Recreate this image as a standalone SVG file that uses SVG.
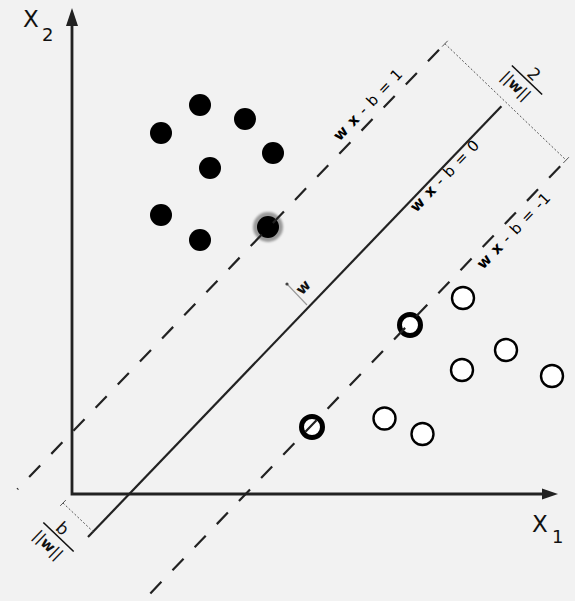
<svg xmlns="http://www.w3.org/2000/svg" width="575" height="601" viewBox="0 0 575 601">
<defs>
<style>
.ax{fill:none;stroke:#222;stroke-width:2.8;stroke-linejoin:miter}
.ln{fill:none;stroke:#222;stroke-width:2.2}
.dash{stroke-dasharray:16 16}
.dot{fill:none;stroke:#555;stroke-width:1;stroke-dasharray:2 2}
.tick{fill:none;stroke:#555;stroke-width:1}
.blk{fill:#000}
.opn{fill:#fff;stroke:#000;stroke-width:2.4}
.sv{fill:#fff;stroke:#000;stroke-width:5}
.t{font-family:"DejaVu Sans",sans-serif;fill:#111}
.lbl{font-family:"DejaVu Sans",sans-serif;font-size:15px;letter-spacing:0.8px;fill:#000}
.b{font-weight:bold}
</style>
<filter id="soft" x="-50%" y="-50%" width="200%" height="200%"><feGaussianBlur stdDeviation="1.2"/></filter>
</defs>
<rect width="575" height="601" fill="#f2f2f2"/>

<g id="axes">
<polyline class="ax" points="72,22 72,494 545,494"/>
<polygon points="72,8 66,26 78,26" fill="#222"/>
<polygon points="558,494 542,488.5 542,499.5" fill="#222"/>
<text class="t" x="23" y="27" font-size="23">X</text>
<text class="t" x="42" y="40.7" font-size="18">2</text>
<text class="t" x="532" y="532" font-size="23">X</text>
<text class="t" x="552" y="543" font-size="18">1</text>
</g>

<g id="class-black">
<circle class="blk" cx="200" cy="105" r="11"/>
<circle class="blk" cx="245" cy="119" r="11"/>
<circle class="blk" cx="161" cy="133" r="11"/>
<circle class="blk" cx="273" cy="153" r="11"/>
<circle class="blk" cx="210" cy="168" r="11"/>
<circle class="blk" cx="161" cy="215" r="11"/>
<circle class="blk" cx="200" cy="240" r="11"/>
</g>
<g id="sv-black">
<circle cx="268" cy="227" r="15" fill="#9a9a9a" filter="url(#soft)"/>
<circle class="blk" cx="268" cy="227" r="11"/>
</g>

<g id="class-white">
<circle class="opn" cx="463" cy="298" r="11"/>
<circle class="opn" cx="506" cy="350" r="11"/>
<circle class="opn" cx="462" cy="370" r="11"/>
<circle class="opn" cx="552" cy="376" r="11"/>
<circle class="opn" cx="384.5" cy="418.5" r="11"/>
<circle class="opn" cx="422.5" cy="434" r="11"/>
</g>
<g id="sv-white">
<circle class="sv" cx="410" cy="325" r="10.5"/>
<circle class="sv" cx="312" cy="427" r="10.5"/>
</g>

<g id="connectors">
<line class="ln dash" x1="17.3" y1="489.3" x2="444.9" y2="43.7" stroke-dashoffset="14.9"/>
<line class="ln" x1="88" y1="537" x2="501.4" y2="106.2"/>
<line class="ln dash" x1="148.6" y1="595.2" x2="566.1" y2="160.1" stroke-dashoffset="29.5"/>
<line class="dot" x1="444.9" y1="43.7" x2="566.1" y2="160.1"/>
<line class="tick" x1="442.1" y1="46.6" x2="447.7" y2="40.8"/>
<line class="tick" x1="563.3" y1="163" x2="568.9" y2="157.2"/>
<line class="dot" x1="63" y1="503" x2="93.5" y2="532"/>
<line class="tick" x1="60.2" y1="505.9" x2="65.8" y2="500.1"/>
<line x1="287" y1="284" x2="307" y2="305" stroke="#999" stroke-width="1.1"/>
<circle cx="287" cy="284" r="1.6" fill="#444"/>
</g>

<g id="labels">
<text class="lbl" transform="translate(345.3,147.5) rotate(-46.18)" y="-8.2"><tspan class="b">w</tspan> <tspan class="b">x</tspan> - b = 1</text>
<text class="lbl" transform="translate(407.2,204.3) rotate(-46.18)" y="12.4"><tspan class="b">w</tspan> <tspan class="b">x</tspan> - b = 0</text>
<text class="lbl" transform="translate(471.3,258.9) rotate(-46.18)" y="16.2"><tspan class="b">w</tspan> <tspan class="b">x</tspan> - b = -1</text>
<text class="t b" font-size="15" text-anchor="middle" transform="translate(304,288) rotate(-46.18)" y="4">w</text>
<g transform="translate(527,80) rotate(43.82)">
<line x1="-21" y1="0" x2="21" y2="0" stroke="#111" stroke-width="1.6"/>
<text class="t" font-size="17" text-anchor="middle" x="1" y="-3">2</text>
<text class="t" font-size="15" text-anchor="middle" x="-4" y="17">||<tspan class="b">w</tspan>||</text>
</g>
<g transform="translate(58.5,537) rotate(43.82)">
<line x1="-21" y1="0" x2="21" y2="0" stroke="#111" stroke-width="1.6"/>
<text class="t" font-size="17" text-anchor="middle" x="-3" y="-3">b</text>
<text class="t" font-size="15" text-anchor="middle" x="-2" y="18">||<tspan class="b">w</tspan>||</text>
</g>
</g>
</svg>
